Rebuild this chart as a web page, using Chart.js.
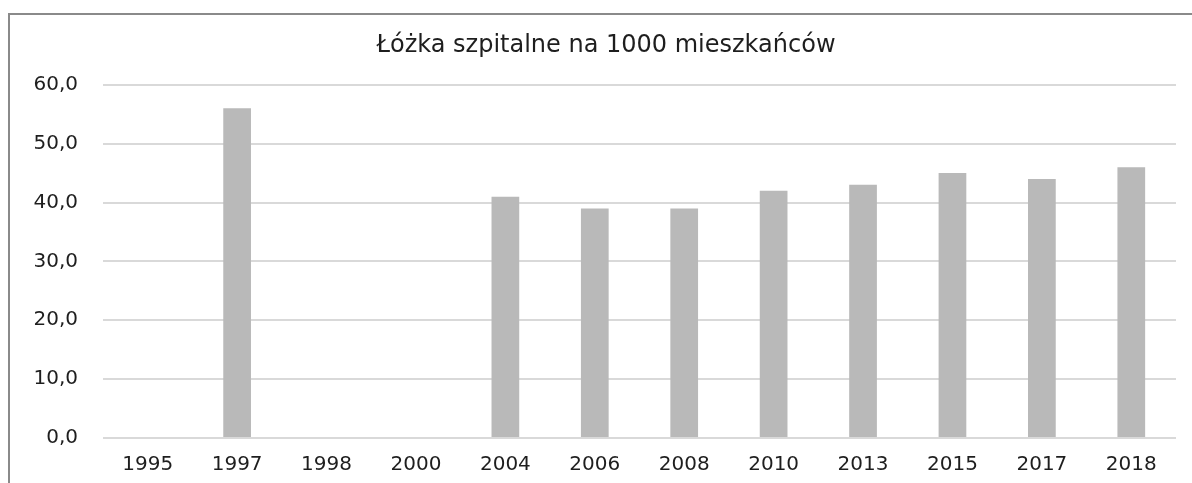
<!DOCTYPE html>
<html>
<head>
<meta charset="utf-8">
<script src="https://cdn.jsdelivr.net/npm/chart.js@4/dist/chart.umd.min.js"></script>
<style>
  html, body { margin: 0; padding: 0; background: #fff; overflow: hidden; }
  #frame {
    position: absolute; left: 8px; top: 13px; width: 1200px; height: 480px;
    border-top: 2px solid #8a8a8a; border-left: 2px solid #8a8a8a;
  }
  #wrap { position: absolute; left: 0; top: 0; width: 1192px; height: 468px; }
</style>
</head>
<body>
<div id="frame">
  <div id="wrap"><canvas id="myChart"></canvas></div>
</div>
<script>
// Łóżka szpitalne na 1000 mieszkańców
const years = ['1995', '1997', '1998', '2000', '2004', '2006', '2008', '2010', '2013', '2015', '2017', '2018'];
const beds = [null, 56, null, null, 41, 39, 39, 42, 43, 45, 44, 46];
const yTicks = [0, 10, 20, 30, 40, 50, 60];

const fontFamily = "'DejaVu Sans', sans-serif";

const ctx = document.getElementById('myChart').getContext('2d');
new Chart(ctx, {
  type: 'bar',
  data: {
    labels: years,
    datasets: [{
      label: 'Łóżka szpitalne na 1000 mieszkańców',
      data: beds,
      backgroundColor: '#b9b9b9',
      borderWidth: 0,
      barPercentage: 0.31,
      categoryPercentage: 1,
    }],
  },
  options: {
    responsive: true,
    maintainAspectRatio: false,
    animation: false,
    layout: { padding: { left: 0, right: 0, top: 0, bottom: 0 } },
    plugins: {
      legend: { display: false },
      tooltip: { enabled: false },
      title: {
        display: true,
        text: 'Łóżka szpitalne na 1000 mieszkańców',
        color: '#1e1e1e',
        font: { family: fontFamily, size: 24, weight: 'normal', lineHeight: 1.2 },
        padding: { top: 16, bottom: 25 },
      },
    },
    scales: {
      x: {
        grid: { display: false, drawTicks: false },
        border: { display: false },
        ticks: {
          color: '#1e1e1e',
          font: { family: fontFamily, size: 20 },
          padding: 15,
          maxRotation: 0,
        },
        afterFit: (scale) => { scale.height = 45; },
      },
      y: {
        min: 0,
        max: 60,
        afterBuildTicks: (scale) => { scale.ticks = yTicks.map((v) => ({ value: v })); },
        grid: { color: '#d9d9d9', lineWidth: 2, drawTicks: false },
        border: { display: false },
        ticks: {
          color: '#1e1e1e',
          font: { family: fontFamily, size: 20 },
          padding: 25,
          callback: (v) => v.toFixed(1).replace('.', ','),
        },
        afterFit: (scale) => { scale.width = 93; },
      },
      // empty spacer on the right, keeps the title a bit right of the plot centre
      spacer: {
        type: 'linear',
        position: 'right',
        display: true,
        grid: { display: false, drawTicks: false },
        border: { display: false },
        ticks: { display: false },
        afterFit: (scale) => { scale.width = 26; },
      },
    },
  },
});
</script>
</body>
</html>
